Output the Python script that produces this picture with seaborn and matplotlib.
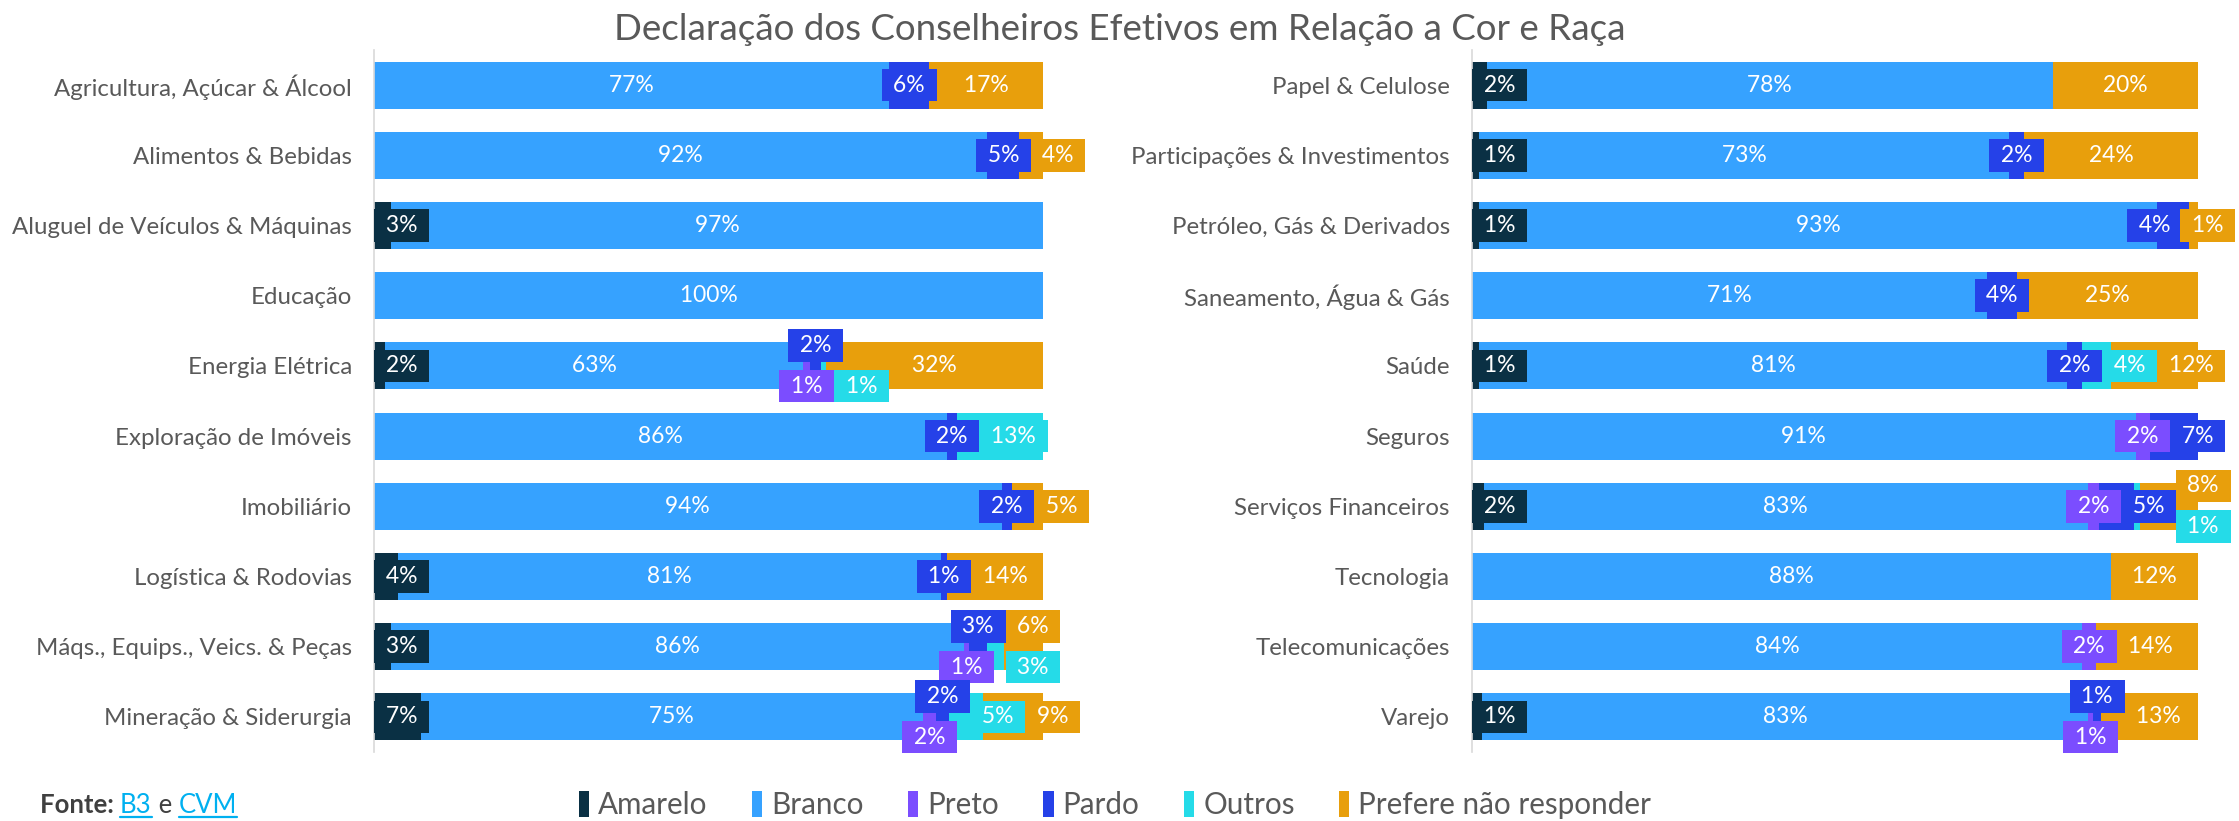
import matplotlib
matplotlib.use("Agg")
import matplotlib.pyplot as plt
import seaborn as sns
import numpy as np
import pandas as pd
from matplotlib.patches import Rectangle
from matplotlib.lines import Line2D

# ---------------- data ----------------
series = ["Amarelo", "Branco", "Preto", "Pardo", "Outros", "Prefere não responder"]
colors = ["#0A3044", "#36A2FF", "#7B4DFF", "#2541E8", "#25DBE8", "#E89F0C"]

left_categories = ["Agricultura, Açúcar & Álcool", "Alimentos & Bebidas",
                   "Aluguel de Veículos & Máquinas", "Educação", "Energia Elétrica",
                   "Exploração de Imóveis", "Imobiliário", "Logística & Rodovias",
                   "Máqs., Equips., Veics. & Peças", "Mineração & Siderurgia"]
left_amarelo = [0, 0, 2.6, 0, 1.6, 0, 0, 3.6, 2.6, 7]
left_branco = [77, 91.7, 97.4, 100, 62.6, 85.6, 93.8, 81.2, 85.6, 75]
left_preto = [0, 0, 0, 0, 1.0, 0, 0, 0, 0.8, 2]
left_pardo = [6, 4.7, 0, 0, 1.6, 1.6, 1.6, 0.8, 2.6, 2]
left_outros = [0, 0, 0, 0, 0.8, 12.8, 0, 0, 2.6, 5]
left_prefere = [17, 3.6, 0, 0, 32.4, 0, 4.6, 14.4, 5.8, 9]

right_categories = ["Papel & Celulose", "Participações & Investimentos",
                    "Petróleo, Gás & Derivados", "Saneamento, Água & Gás", "Saúde",
                    "Seguros", "Serviços Financeiros", "Tecnologia",
                    "Telecomunicações", "Varejo"]
right_amarelo = [2, 1, 1.0, 0, 1, 0, 1.6, 0, 0, 1.4]
right_branco = [78, 73, 93.4, 71, 81, 91.4, 83.2, 88, 84, 83.4]
right_preto = [0, 0, 0, 0, 0, 2.0, 1.6, 0, 2, 0.8]
right_pardo = [0, 2, 4.4, 4, 2, 6.6, 4.8, 0, 0, 1.0]
right_outros = [0, 0, 0, 0, 4, 0, 0.8, 0, 0, 0]
right_prefere = [20, 24, 1.2, 25, 12, 0, 8.0, 12, 14, 13.4]

title = "Declaração dos Conselheiros Efetivos em Relação a Cor e Raça"

# ---------------- style ----------------
sns.set_theme(style="white")
plt.rcParams["font.family"] = ["Lato", "DejaVu Sans"]
GREY = "#595959"

W, H, DPI = 2239, 821, 100
fig = plt.figure(figsize=(W / DPI, H / DPI), dpi=DPI)

ax_l = fig.add_axes([374 / W, 1 - 752 / H, 669 / W, 702 / H])
ax_r = fig.add_axes([1472 / W, 1 - 752 / H, 726 / W, 702 / H])

LABEL_FS = 16.5
PAD = 0.25
OFF = 0.29      # vertical displacement of moved labels (in rows)
TOL = 2.0       # px of overlap tolerated
MAXSHIFT = 0.75 # max horizontal push, fraction of label width


def overlaps(a, b):
    return (a[0] < b[1] - TOL and a[1] > b[0] + TOL and
            a[2] < b[3] - TOL and a[3] > b[2] + TOL)


def draw_panel(ax, cats, values):
    df = pd.DataFrame(dict(zip(series, values)), index=cats)
    cum = df.cumsum(axis=1)
    # draw cumulative totals from largest to smallest (stacking)
    for s, c in reversed(list(zip(series, colors))):
        sns.barplot(x=cum[s].values, y=cats, color=c, orient="h",
                    width=0.67, ax=ax, saturation=1, linewidth=0)
    ax.set_xlim(0, 100)
    ax.set_ylim(len(cats) - 0.5, -0.5)
    ax.set_xticks([])
    ax.set_xlabel("")
    ax.set_ylabel("")
    for sp in ["top", "right", "bottom"]:
        ax.spines[sp].set_visible(False)
    ax.spines["left"].set_color("#D9D9D9")
    ax.spines["left"].set_linewidth(1.2)
    ax.tick_params(axis="y", length=0, pad=16, labelsize=17.3, labelcolor=GREY)

    renderer = fig.canvas.get_renderer()
    bb_ax = ax.get_window_extent(renderer)
    pxx = bb_ax.width / 100.0
    row = bb_ax.height / len(cats)
    padpx = PAD * LABEL_FS * DPI / 72
    max_right = W - 4 - bb_ax.x0  # keep label boxes inside the figure

    for i, cat in enumerate(cats):
        placed = []  # dicts: text, cx, lev, w, h, v
        start = 0.0
        for s, c in zip(series, colors):
            v = df.loc[cat, s]
            if v <= 0:
                continue
            mid = start + v / 2
            start += v
            txt = " %d%% " % int(round(v))
            t = ax.text(mid, i, txt, ha="center", va="center", color="white",
                        fontsize=LABEL_FS, clip_on=False, zorder=5,
                        bbox=dict(boxstyle="square,pad=%.2f" % PAD, fc=c, ec="none"))
            ext = t.get_window_extent(renderer)
            w = ext.width + 2 * padpx
            h = ext.height + 2 * padpx
            cx0 = max(mid * pxx, w / 2)

            def box(cx, lev, w=w, h=h):
                cy = lev * OFF * row
                return (cx - w / 2, cx + w / 2, cy - h / 2, cy + h / 2)

            def boxof(p):
                return box(p["cx"], p["lev"], p["w"], p["h"])

            def try_level(lev, others):
                cx = cx0
                for _ in range(8):
                    moved = False
                    for p in others:
                        if overlaps(box(cx, lev), boxof(p)):
                            cx = boxof(p)[1] + w / 2
                            moved = True
                    if not moved:
                        break
                return cx

            res = None
            cx = try_level(0, placed)
            if cx - cx0 <= MAXSHIFT * w:
                res = (cx, 0)
            if res is None and placed:
                prev = placed[-1]
                if prev["lev"] == 0 and prev["v"] * pxx < 0.5 * prev["w"]:
                    old = prev["lev"]
                    prev["lev"] = 1
                    others = [p for p in placed if p is not prev]
                    if any(overlaps(boxof(prev), boxof(p)) for p in others):
                        prev["lev"] = old
                    else:
                        cxu = try_level(-1, placed)
                        if cxu - cx0 <= MAXSHIFT * w:
                            res = (cxu, -1)
                        else:
                            prev["lev"] = old
            if res is None:
                for lev in (1, -1):
                    cxl = try_level(lev, placed)
                    if cxl - cx0 <= MAXSHIFT * w:
                        res = (cxl, lev)
                        break
            if res is None:
                res = (try_level(0, placed), 0)
            placed.append(dict(text=t, cx=res[0], lev=res[1], w=w, h=h, v=v))

        # keep inside the figure on the right, pushing neighbours leftwards
        limit = {-1: max_right, 0: max_right, 1: max_right}
        for p in reversed(placed):
            lim = limit[p["lev"]]
            if p["cx"] + p["w"] / 2 > lim:
                p["cx"] = lim - p["w"] / 2
            limit[p["lev"]] = min(limit[p["lev"]], p["cx"] - p["w"] / 2 + TOL)
        for p in placed:
            p["text"].set_position((p["cx"] / pxx, i + p["lev"] * OFF))


draw_panel(ax_l, left_categories,
           [left_amarelo, left_branco, left_preto, left_pardo, left_outros, left_prefere])
draw_panel(ax_r, right_categories,
           [right_amarelo, right_branco, right_preto, right_pardo, right_outros, right_prefere])

fig.text(0.5, 1 - 30 / H, title, ha="center", va="center", fontsize=26.5, color=GREY)

# legend
handles = [Rectangle((0, 0), 1, 1, fc=c, ec="none") for c in colors]
fig.legend(handles, series, loc="center", bbox_to_anchor=(0.498, 1 - 805 / H),
           ncol=6, frameon=False, fontsize=21.3, labelcolor=GREY,
           handlelength=0.35, handleheight=1.0, handletextpad=0.3,
           columnspacing=1.5)

# source line
renderer = fig.canvas.get_renderer()
ypos = 1 - 805 / H
x = 40 / W
parts = [("Fonte: ", "bold", "#404040", False), ("B3", "normal", "#00B0F0", True),
         (" e ", "normal", "#404040", False), ("CVM", "normal", "#00B0F0", True)]
for txt, wt, col, ul in parts:
    t = fig.text(x, ypos, txt, ha="left", va="center", fontsize=18.5,
                 fontweight=wt, color=col)
    bb = t.get_window_extent(renderer)
    if ul:
        yline = (bb.y0 + 1) / H
        fig.add_artist(Line2D([bb.x0 / W, bb.x1 / W], [yline, yline],
                              color=col, lw=1.6, transform=fig.transFigure))
    x = bb.x1 / W

fig.savefig("out.png", dpi=DPI)
